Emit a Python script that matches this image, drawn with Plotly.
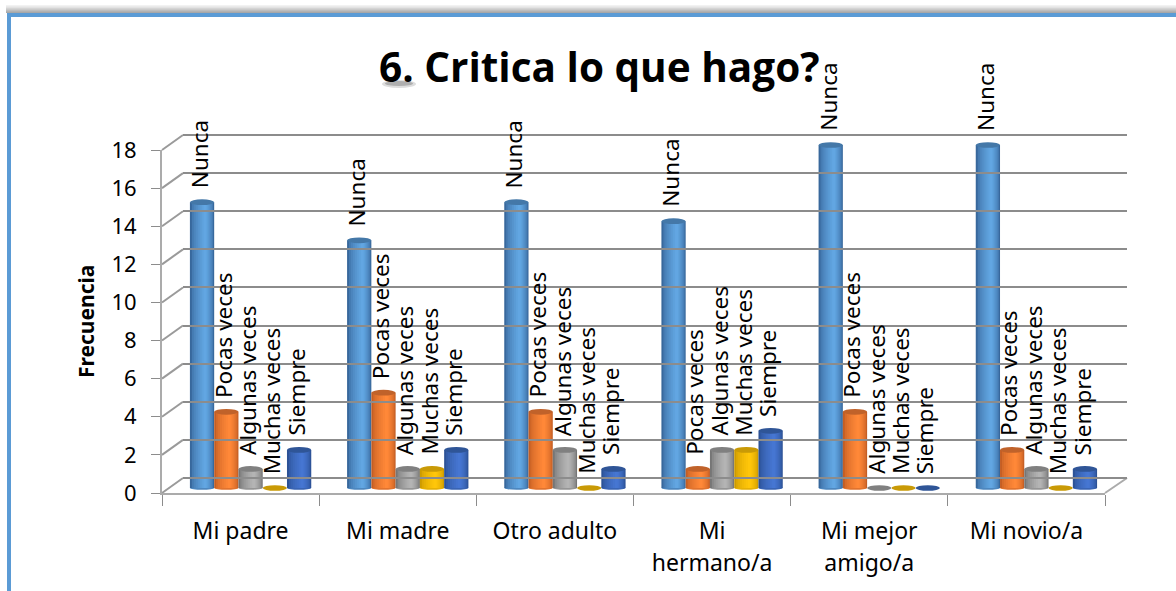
import plotly.graph_objects as go

categories_line1 = ["Mi padre", "Mi madre", "Otro adulto", "Mi", "Mi mejor", "Mi novio/a"]
categories_line2 = ["", "", "", "hermano/a", "amigo/a", ""]
series_names = ["Nunca", "Pocas veces", "Algunas veces", "Muchas veces", "Siempre"]
nunca = [15, 13, 15, 14, 18, 18]
pocas = [4, 5, 4, 1, 4, 2]
algunas = [1, 1, 2, 2, 0, 1]
muchas = [0, 1, 0, 2, 0, 0]
siempre = [2, 2, 1, 3, 0, 1]
series_values = [nunca, pocas, algunas, muchas, siempre]
y_ticks = list(range(0, 20, 2))

# (edge, highlight, cap) shades per series
palette = [
    ((56, 104, 156), (98, 166, 226), "#4478A8"),
    ((196, 94, 36), (255, 136, 56), "#C0622A"),
    ((118, 118, 118), (180, 180, 180), "#808080"),
    ((205, 155, 0), (255, 198, 10), "#C99A06"),
    ((44, 82, 150), (70, 118, 210), "#2F5597"),
]

W, H = 1176, 591
def dx(p): return p / W
def dy(p): return 1 - p / H

FX0, FX1 = 162, 1105      # front floor edge
BX0, BX1 = 183, 1127      # back wall
FY0, BY0 = 493, 478       # zero line, front and back
UNIT = 343 / 18           # pixels per value unit

fig = go.Figure()

fig.add_trace(go.Scatter(x=[0], y=[0], xaxis="x2", yaxis="y2", mode="markers",
                         marker=dict(opacity=0), showlegend=False, hoverinfo="skip"))
fig.add_trace(go.Scatter(x=[0], y=[0], xaxis="x", yaxis="y", mode="markers",
                         marker=dict(opacity=0), showlegend=False, hoverinfo="skip"))

GROUP = 0.772
BAR = GROUP / 5
DEPTH_SHIFT = 10 / ((FX1 - FX0) / 6)   # bars stand mid-way across the floor
LEVELS = 8
PEAK = 0.64

shapes = []
annotations = []
for s, (name, vals) in enumerate(zip(series_names, series_values)):
    edge, hi, cap = palette[s]
    left = -GROUP / 2 + s * BAR + DEPTH_SHIFT
    mid = "rgb(%d,%d,%d)" % tuple((a + b) // 2 for a, b in zip(edge, hi))
    for i, v in enumerate(vals):
        x0, x1 = i + left, i + left + BAR
        if v > 0:
            shapes.append(dict(type="circle", xref="x", yref="y3", layer="below",
                               x0=x0, x1=x1, y0=-0.09, y1=0.09,
                               fillcolor=mid, line=dict(width=0)))
        shapes.append(dict(type="circle", xref="x", yref="y3", layer="above",
                           x0=x0, x1=x1, y0=v - 0.15, y1=v + 0.15,
                           fillcolor=cap, line=dict(width=0)))
        annotations.append(dict(text=name, x=i + left + BAR / 2, y=v, xref="x", yref="y3",
                                textangle=-90, showarrow=False, yanchor="bottom", xanchor="center",
                                xshift=-3, yshift=12, font=dict(size=22.5, color="#000000")))
    # nested bars give the cylinder shading
    for k in range(LEVELS):
        f = k / LEVELS
        a = PEAK * f
        b = 1 - (1 - PEAK) * f
        t = (k / (LEVELS - 1)) ** 0.6
        col = "rgb(%d,%d,%d)" % tuple(round(p + (q - p) * t) for p, q in zip(edge, hi))
        fig.add_trace(go.Bar(x=list(range(6)), y=vals, xaxis="x", yaxis="y3",
                             width=(b - a) * BAR, offset=left + a * BAR,
                             marker=dict(color=col, line=dict(width=0)),
                             name=name, showlegend=False, hoverinfo="skip"))

# perspective connectors on the side wall and floor
for v in y_ticks:
    shapes.append(dict(type="line", xref="paper", yref="paper",
                       x0=dx(FX0), x1=dx(BX0), y0=dy(FY0 - v * UNIT), y1=dy(BY0 - v * UNIT),
                       line=dict(color="#9A9A9A", width=2), layer="below"))
shapes.append(dict(type="line", xref="paper", yref="paper", x0=dx(BX1), x1=dx(FX1), y0=dy(BY0), y1=dy(FY0),
                   line=dict(color="#ABABAB", width=2), layer="below"))

# panel frame
for i, c in enumerate(["#F2F2F2", "#E2E2E2", "#CFCFCF", "#BDBDBD", "#A8A8A8"]):
    shapes.insert(i, dict(type="rect", xref="paper", yref="paper", x0=dx(6), x1=1, y0=dy(13), y1=dy(5 + i * 1.6),
                          fillcolor=c, line=dict(width=0), layer="below"))
shapes.insert(5, dict(type="rect", xref="paper", yref="paper", x0=dx(7), x1=1, y0=0, y1=dy(13),
                      fillcolor="#5B9BD5", line=dict(width=0), layer="below"))
shapes.insert(6, dict(type="rect", xref="paper", yref="paper", x0=dx(11), x1=1, y0=0, y1=dy(17),
                      fillcolor="#FFFFFF", line=dict(width=0), layer="below"))

# soft shadow below the "6."
for (px0, px1, py0, py1, c) in [(382, 416, 80, 88, "rgba(120,120,120,0.25)"),
                                (385, 413, 81, 86, "rgba(90,90,90,0.35)")]:
    shapes.append(dict(type="circle", xref="paper", yref="paper", x0=dx(px0), x1=dx(px1),
                       y0=dy(py1), y1=dy(py0), fillcolor=c, line=dict(width=0), layer="below"))

annotations.append(dict(text="<b>6. Critica lo que hago?</b>", x=dx(377), y=dy(67), xref="paper", yref="paper",
                        showarrow=False, xanchor="left", yanchor="middle",
                        font=dict(size=40.5, color="#000000", family="Open Sans")))
annotations.append(dict(text="<b>Frecuencia</b>", x=dx(86), y=dy(322), xref="paper", yref="paper", showarrow=False,
                        textangle=-90, xanchor="center", yanchor="middle", font=dict(size=21, color="#000000")))

axis_font = dict(size=23, color="#000000")
tick_font = dict(size=22, color="#000000")
GRID_PAD = 0.5
layout = dict(
    width=W, height=H, margin=dict(l=0, r=0, t=0, b=0, autoexpand=False),
    paper_bgcolor="#FFFFFF", plot_bgcolor="rgba(0,0,0,0)",
    barmode="overlay", showlegend=False,
    font=dict(family="Noto Sans", color="#000000"),
    xaxis=dict(domain=[dx(FX0), dx(FX1)], range=[-0.5, 5.5], anchor="y",
               tickmode="array", tickvals=list(range(6)), ticktext=categories_line1,
               ticks="", tickfont=axis_font, ticklabelstandoff=16,
               showline=True, linecolor="#ABABAB", linewidth=2, showgrid=False, zeroline=False,
               minor=dict(tickmode="array", tickvals=[i - 0.5 for i in range(7)], ticks="outside",
                          ticklen=11, tickcolor="#8C8C8C", tickwidth=1, showgrid=False)),
    xaxis3=dict(domain=[dx(FX0), dx(FX1)], range=[-0.5, 5.5], anchor="y", overlaying="x",
                tickmode="array", tickvals=list(range(6)), ticktext=categories_line2,
                ticks="", tickfont=axis_font, ticklabelstandoff=54,
                showline=False, showgrid=False, zeroline=False),
    yaxis=dict(domain=[dy(FY0), dy(FY0 - 18 * UNIT)], range=[0, 18], anchor="x",
               tickmode="array", tickvals=y_ticks, ticks="outside", ticklen=9, tickcolor="#8C8C8C",
               ticklabelstandoff=10,
               tickfont=tick_font, showline=True, linecolor="#ABABAB", linewidth=2,
               showgrid=False, zeroline=False),
    xaxis2=dict(domain=[dx(BX0), dx(BX1)], range=[0, 1], anchor="y2", visible=False),
    yaxis2=dict(domain=[dy(BY0 + GRID_PAD * UNIT), dy(BY0 - (18 + GRID_PAD) * UNIT)],
                range=[-GRID_PAD, 18 + GRID_PAD], anchor="x2", visible=True,
                tickmode="array", tickvals=y_ticks, showticklabels=False, ticks="",
                showgrid=True, gridcolor="#8C8C8C", gridwidth=2, zeroline=False, showline=False),
    yaxis3=dict(domain=[dy(488 + 0.5 * UNIT), dy(488 - 19 * UNIT)], range=[-0.5, 19], anchor="x", visible=False),
    shapes=shapes, annotations=annotations,
)
fig.add_trace(go.Scatter(x=[0], y=[0], xaxis="x3", yaxis="y", mode="markers",
                         marker=dict(opacity=0), showlegend=False, hoverinfo="skip"))
fig.update_layout(**layout)
fig.write_html("out.html", config=dict(displayModeBar=False),
               post_script="document.body.style.margin='0';")
